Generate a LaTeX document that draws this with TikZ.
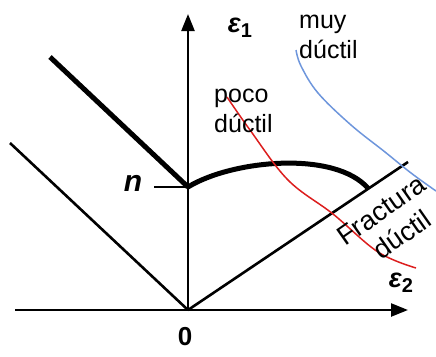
\documentclass[tikz,border=0pt]{standalone}
\usepackage{fontspec}
\setmainfont{Liberation Sans}
\usetikzlibrary{arrows.meta,calc}
\begin{document}
\begin{tikzpicture}[x=1pt,y=-1pt,
  axis/.style={line width=2.4pt,-{Triangle[length=17pt,width=13pt]}},
  thickline/.style={line width=5pt},
  thinline/.style={line width=2.6pt},
  lab/.style={font=\fontsize{25}{30}\selectfont,align=left,inner sep=0pt},
  sym/.style={font=\fontsize{27}{28}\selectfont\bfseries\itshape,inner sep=0pt},
  redc/.style={draw={rgb,255:red,220;green,30;blue,30},line width=1.5pt},
  bluec/.style={draw={rgb,255:red,110;green,150;blue,220},line width=1.5pt}]
\newcommand{\mysub}[1]{\raisebox{-5pt}{\fontsize{20}{20}\selectfont\upshape\bfseries #1}}
\useasboundingbox (0,0) rectangle (436,356);
% coordinates
\coordinate (O) at (188,310);
\coordinate (Ytip) at (188,14);
\coordinate (Xl) at (15,310);
\coordinate (Xtip) at (408,310);
\coordinate (N) at (188,187);
\coordinate (Nl) at (154,187);
\coordinate (T) at (50,57);
\coordinate (L) at (10,143);
\coordinate (D) at (408,162);
\coordinate (E) at ($(O)!0.82!(D)$);
% axes
\draw[axis] (Xl) -- (Xtip);
\draw[axis] (O) -- (Ytip);
% lines
\draw[thickline] (T) -- (N);
\draw[thinline] (L) -- (O);
\draw[thinline] (O) -- (D);
\draw[line width=2.4pt] (Nl) -- (N);
\draw[thickline] (N) .. controls (232,160) and (335,150) .. (E);
% curves
\draw[redc] plot[smooth,tension=0.6] coordinates {(227,97) (250,130) (288,180) (333,214) (378,252) (416,268)};
\draw[bluec] plot[smooth,tension=0.6] coordinates {(296,50) (301,66) (318,93) (351,125) (385,152) (411,173) (436,191)};
% labels
\node[sym] (e1) at (240,28) {ε\mysub{1}};
\node[sym] (e2) at (401,283) {ε\mysub{2}};
\node[font=\fontsize{30}{30}\selectfont\bfseries\itshape,inner sep=0pt] (n) at (133,183) {n};
\node[font=\fontsize{26}{30}\selectfont\bfseries,inner sep=0pt] (zero) at (185,337) {0};
\node[lab,anchor=base west] (muy) at (299,58) {muy\\dúctil};
\node[lab,anchor=base west] (poco) at (214,132) {poco\\dúctil};
\node[font=\fontsize{27}{32}\selectfont,align=center,inner sep=0pt,rotate=35,anchor=base] (frac) at (405,244) {Fractura\\\hspace*{6pt}dúctil};
\end{tikzpicture}
\end{document}
